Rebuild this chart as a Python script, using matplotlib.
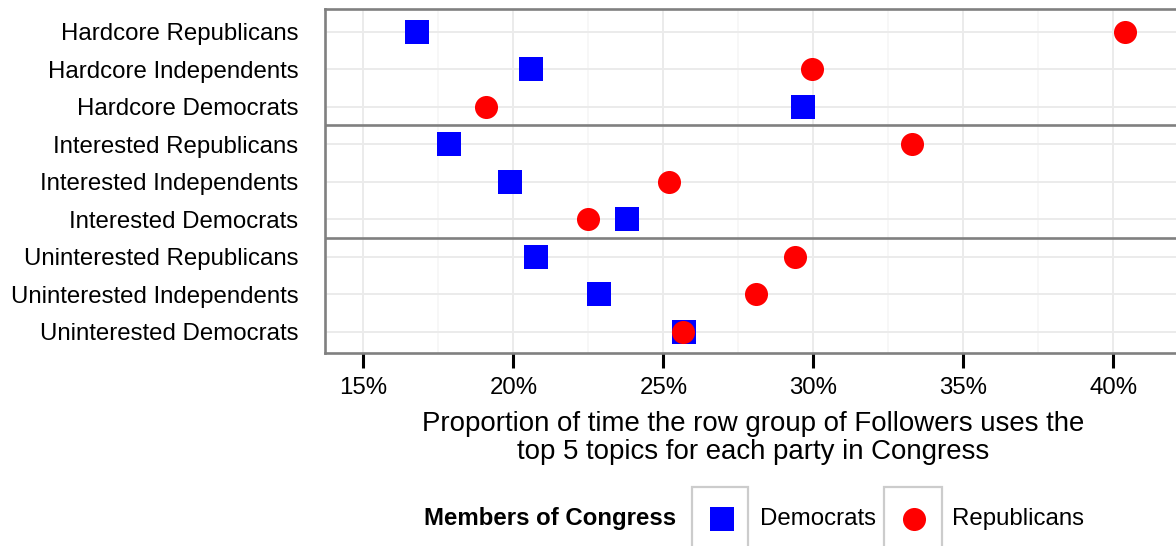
import numpy as np
import matplotlib.pyplot as plt
from matplotlib.patches import Rectangle
from matplotlib.lines import Line2D
from matplotlib.ticker import FuncFormatter, MultipleLocator

plt.rcParams['font.family'] = ['Liberation Sans', 'DejaVu Sans']

groups = ['Hardcore Republicans', 'Hardcore Independents', 'Hardcore Democrats',
          'Interested Republicans', 'Interested Independents', 'Interested Democrats',
          'Uninterested Republicans', 'Uninterested Independents', 'Uninterested Democrats']
dem_vals = [16.8, 20.6, 29.65, 17.85, 19.9, 23.8, 20.75, 22.85, 25.7]
rep_vals = [40.4, 29.95, 19.1, 33.3, 25.2, 22.5, 29.4, 28.1, 25.65]

W, H = 1176, 546
fig = plt.figure(figsize=(W / 100, H / 100), dpi=100)

# panel spans past the right edge, as in the reference
left, right, top, bottom = 325, 1182, 9, 353
ax = fig.add_axes([left / W, 1 - bottom / H, (right - left) / W, (bottom - top) / H])

fs = 17.3
y = np.arange(len(groups))

ax.scatter(dem_vals, y, marker='s', s=16.6 ** 2, color='#0000FF', linewidths=0, zorder=3)
ax.scatter(rep_vals, y, marker='o', s=16.6 ** 2, color='#FF0000', linewidths=0, zorder=4)

ax.set_xlim(13.72, 13.72 + (right - left) / 30)
ax.set_ylim(8.56, -0.6)

ax.xaxis.set_major_locator(MultipleLocator(5))
ax.xaxis.set_minor_locator(MultipleLocator(2.5))
ax.xaxis.set_major_formatter(FuncFormatter(lambda v, p: '%d%%' % v))
ax.set_yticks(y)
ax.set_yticklabels(groups)

ax.grid(True, which='major', axis='both', color='#EBEBEB', lw=1.4, zorder=0)
ax.grid(True, which='minor', axis='x', color='#F7F7F7', lw=1.4, zorder=0)
ax.set_axisbelow(True)

ax.tick_params(axis='x', which='major', length=10.5, width=2.2, color='black',
               labelsize=fs, pad=7)
ax.tick_params(axis='x', which='minor', length=0)
ax.tick_params(axis='y', length=0, labelsize=fs, pad=19)

for sp in ax.spines.values():
    sp.set_color('#808080')
    sp.set_linewidth(1.9)

# facet separators
for b in [2.5, 5.5]:
    ax.axhline(b, color='#808080', lw=1.9, zorder=5)

ax.set_xlabel('Proportion of time the row group of Followers uses the\n'
              'top 5 topics for each party in Congress', fontsize=19.9, labelpad=8.6,
              linespacing=1.1)

# legend, drawn in figure pixels
def fx(px):
    return px / W

def fy(py):
    return 1 - py / H

ly = 519
fig.text(fx(424), fy(ly), 'Members of Congress', fontsize=fs, fontweight='bold',
         ha='left', va='center')
for x0, x1 in [(692, 748), (884, 942)]:
    fig.add_artist(Rectangle((fx(x0), fy(560)), fx(x1) - fx(x0), fy(487) - fy(560),
                             transform=fig.transFigure, fill=False,
                             edgecolor='#CCCCCC', lw=1.6))
fig.add_artist(Line2D([fx(722)], [fy(ly)], marker='s', ms=16.6, color='#0000FF',
                      mew=0, transform=fig.transFigure))
fig.add_artist(Line2D([fx(914)], [fy(ly)], marker='o', ms=16.6, color='#FF0000',
                      mew=0, transform=fig.transFigure))
fig.text(fx(760), fy(ly), 'Democrats', fontsize=fs, ha='left', va='center')
fig.text(fx(952), fy(ly), 'Republicans', fontsize=fs, ha='left', va='center')

fig.savefig('out.png', dpi=100)
